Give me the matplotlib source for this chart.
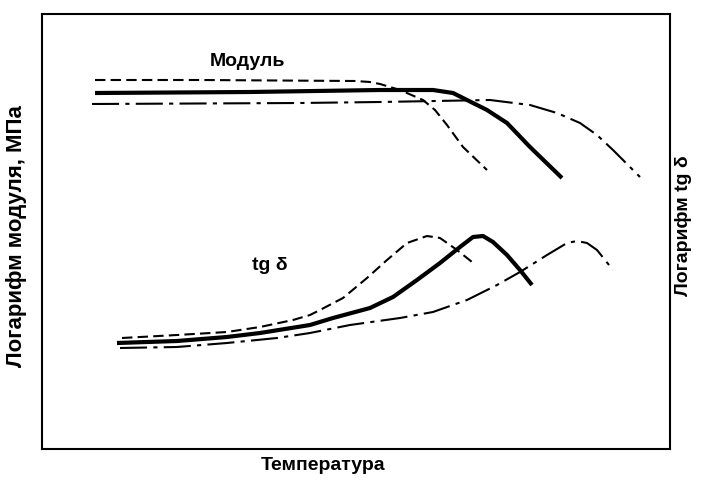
import matplotlib
matplotlib.use("Agg")
import matplotlib.pyplot as plt

plt.rcParams['font.family'] = ['Liberation Sans', 'DejaVu Sans']

# curves (x = temperature, y = log value, arbitrary units)
mod_dash_x = [95, 200, 355, 370, 380, 400, 423, 435, 447, 463, 487]
mod_dash_y = [402, 402, 401, 400, 398, 392, 382, 372, 357, 335, 312]
mod_solid_x = [95, 250, 380, 433, 453, 467, 487, 507, 530, 562]
mod_solid_y = [389, 390, 392, 392, 389, 382, 372, 359, 335, 304]
mod_dd_x = [92, 300, 380, 490, 530, 557, 580, 597, 613, 640]
mod_dd_y = [378, 379, 380, 382, 377, 369, 359, 347, 332, 305]

tg_dash_x = [122, 177, 227, 260, 293, 310, 320, 343, 367, 387, 407, 427, 440, 450, 457, 472]
tg_dash_y = [144, 147, 150, 155, 162, 167, 172, 184, 204, 222, 239, 246, 244, 237, 232, 220]
tg_solid_x = [117, 177, 227, 260, 310, 333, 370, 393, 417, 440, 460, 473, 483, 493, 507, 520, 532]
tg_solid_y = [139, 141, 145, 149, 157, 164, 174, 185, 202, 219, 235, 245, 246, 240, 227, 212, 197]
tg_dd_x = [120, 177, 227, 277, 310, 350, 400, 433, 467, 497, 520, 547, 567, 577, 587, 597, 613]
tg_dd_y = [134, 135, 139, 144, 149, 157, 164, 170, 182, 197, 210, 227, 239, 241, 239, 232, 212]

fig = plt.figure(figsize=(7.02, 4.82), dpi=100)
ax = fig.add_axes([42 / 702, 33 / 482, 628 / 702, 435 / 482])

dash = (0, (5, 2.5))
dashdot = (0, (13, 3, 2, 3))
thin = dict(color='black', lw=1.5, dash_capstyle='butt')
thick = dict(color='black', lw=3.0, solid_capstyle='butt', solid_joinstyle='round')

ax.plot(mod_dash_x, mod_dash_y, linestyle=dash, **thin)
ax.plot(mod_solid_x, mod_solid_y, **thick)
ax.plot(mod_dd_x, mod_dd_y, linestyle=dashdot, **thin)
ax.plot(tg_dash_x, tg_dash_y, linestyle=dash, **thin)
ax.plot(tg_solid_x, tg_solid_y, **thick)
ax.plot(tg_dd_x, tg_dd_y, linestyle=dashdot, **thin)

font = dict(fontsize=14, fontweight='bold')
ax.text(247, 421, 'Модуль', ha='center', va='center', **font)
ax.text(270, 217, 'tg δ', ha='center', va='center', **font)

ax.set_xlim(42, 670)
ax.set_ylim(33, 468)
ax.set_xticks([])
ax.set_yticks([])
for s in ax.spines.values():
    s.set_linewidth(1.5)

fig.text(323 / 702, 1 - 466 / 482, 'Температура', ha='center', va='center', **font)
fig.text(17 / 702, 1 - 236 / 482, 'Логарифм модуля, МПа', rotation=90,
         ha='center', va='center', fontsize=16, fontweight='bold')
fig.text(684 / 702, 1 - 226 / 482, 'Логарифм tg δ', rotation=90,
         ha='center', va='center', **font)

fig.savefig('out.png', dpi=100)
